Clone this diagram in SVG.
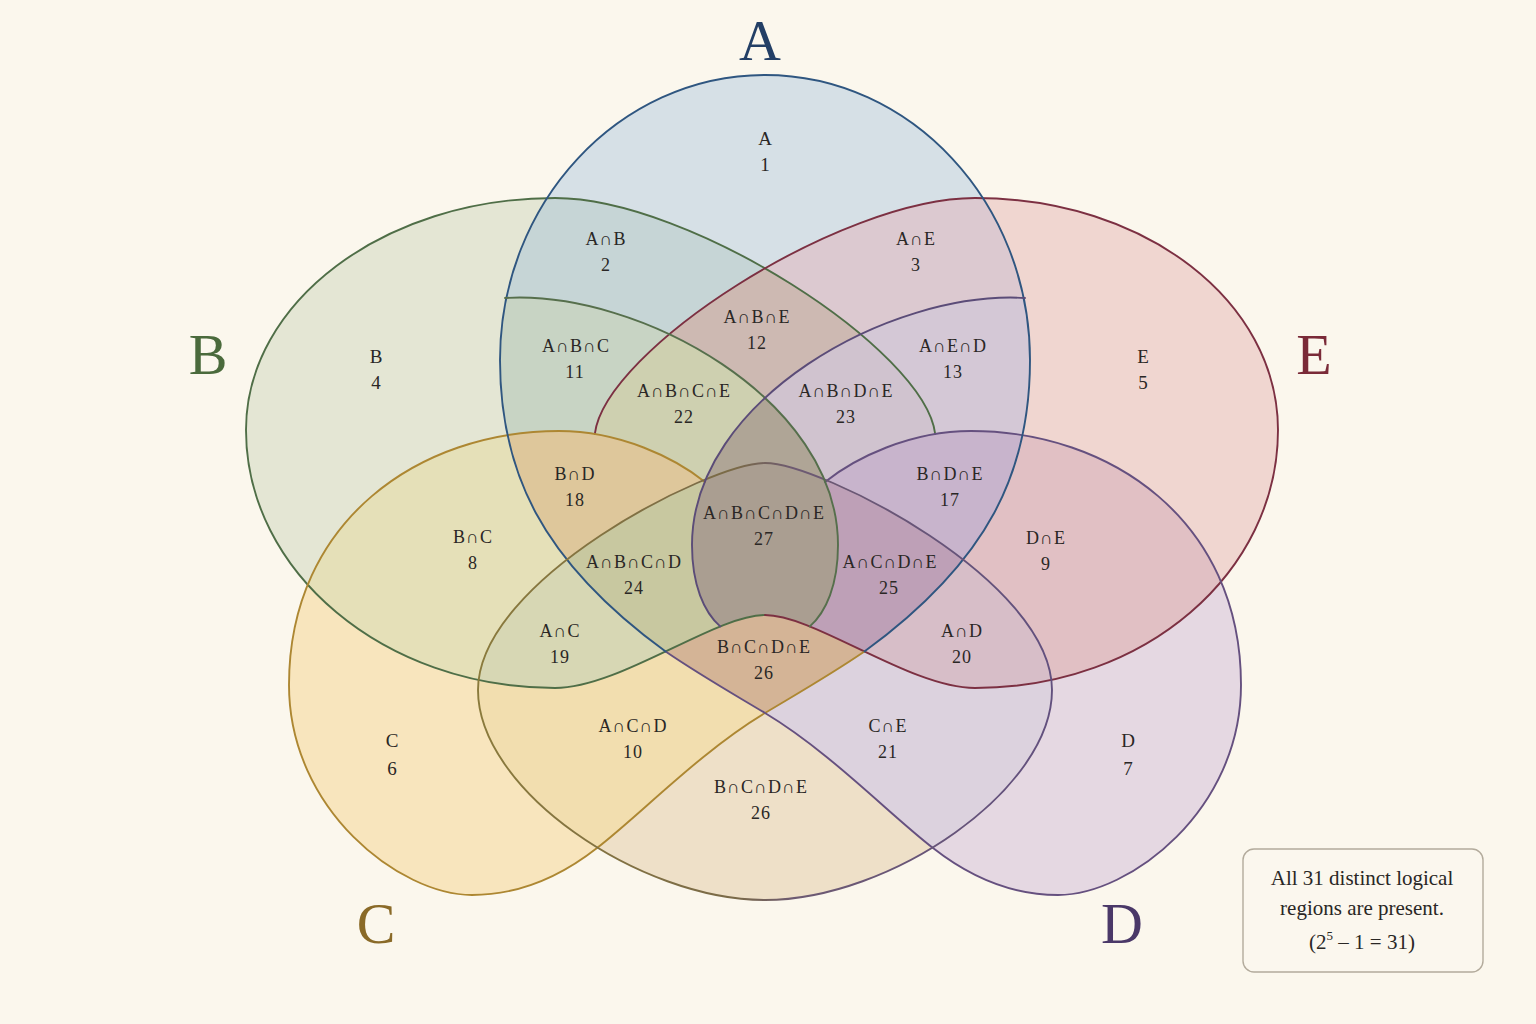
<svg xmlns="http://www.w3.org/2000/svg" xmlns:xlink="http://www.w3.org/1999/xlink" width="1536" height="1024" viewBox="0 0 1536 1024">
  <defs>
    <style>
      .edge { fill: none; stroke-width: 1.9; stroke-linejoin: round; stroke-linecap: round; }
      .lbl { font-family: "Liberation Serif", "DejaVu Serif", serif; font-size: 18px; fill: #2a2725; text-anchor: middle; letter-spacing: 1px; }
      .lbl1 { font-family: "Liberation Serif", "DejaVu Serif", serif; font-size: 19px; fill: #2a2725; text-anchor: middle; }
      .big { font-family: "Liberation Serif", "DejaVu Serif", serif; font-size: 58px; text-anchor: middle; }
      .note { font-family: "Liberation Serif", "DejaVu Serif", serif; font-size: 21px; fill: #2a2725; text-anchor: middle; }
    </style>
    <path id="pA" d="M765,75 C911,75 1030,203 1030,360 C1030,470 990,560 864.4,651.5 C826.25,633.25 790,615 765,615 C740,615 703.75,633.25 665.6,651.5 C540,560 500,470 500,360 C500,203 619,75 765,75 Z"/>
    <path id="pB" d="M246,430 C246,302 384,198 555,198 C690,198 925,350 935.2,434 C889,441.7 848.8,462.8 825,482 C834,500 838,522 838,545 C838,585 826,612 809.8,626.4 C792.8,619.6 777.5,615 765,615 C715,615 620,688 555,688 C384,688 246,572 246,430 Z"/>
    <path id="pE" d="M1278,430 C1278,302 1146,198 975,198 C840,198 605,350 594.8,434 C641,441.7 681.2,462.8 705,482 C696,500 692,522 692,545 C692,585 704,612 720.2,626.4 C737.2,619.6 752.5,615 765,615 C815,615 910,688 975,688 C1146,688 1278,572 1278,430 Z"/>
    <path id="pC" d="M289,685 C289,520 420,431 559,431 C620,431 675,458 705,482 C696,500 692,522 692,545 C692,585 704,612 720.2,626.4 C737.2,619.6 752.5,615 765,615 C777.5,615 792.8,619.6 809.8,626.4 C826.7,633.2 845.3,642.4 864.4,651.5 C830,675 800,692 765,713 C700,752 640,815 597,848 C560,877 520,895 472,895 C400,895 289,810 289,685 Z"/>
    <path id="pD" d="M1241,685 C1241,520 1110,431 971,431 C910,431 855,458 825,482 C834,500 838,522 838,545 C838,585 826,612 809.8,626.4 C792.8,619.6 777.5,615 765,615 C752.5,615 737.2,619.6 720.2,626.4 C703.3,633.2 684.7,642.4 665.6,651.5 C700,675 730,692 765,713 C830,752 890,815 933,848 C970,877 1010,895 1058,895 C1130,895 1241,810 1241,685 Z"/>
    <path id="pI" d="M765,463 C710,463 478,580 478,690 C478,790 640,900 765,900 C890,900 1052,790 1052,690 C1052,580 820,463 765,463 Z"/>
    <path id="pL1" d="M505,298 C640,290 838,400 838,545 C838,585 826,612 809.8,626.4 C792.8,619.6 777.5,615 765,615 C740,615 703.75,633.25 665.6,651.5 C540,560 500,470 500,360 C500,335 502,315 505,298 Z"/>
    <path id="pL2" d="M1025,298 C890,290 692,400 692,545 C692,585 704,612 720.2,626.4 C737.2,619.6 752.5,615 765,615 C790,615 826.25,633.25 864.4,651.5 C990,560 1030,470 1030,360 C1030,335 1028,315 1025,298 Z"/>
    <clipPath id="cA"><use href="#pA" xlink:href="#pA"/></clipPath>
    <clipPath id="cB"><use href="#pB" xlink:href="#pB"/></clipPath>
    <clipPath id="cE"><use href="#pE" xlink:href="#pE"/></clipPath>
    <clipPath id="cC"><use href="#pC" xlink:href="#pC"/></clipPath>
    <clipPath id="cD"><use href="#pD" xlink:href="#pD"/></clipPath>
    <clipPath id="cI"><use href="#pI" xlink:href="#pI"/></clipPath>
    <clipPath id="cL1"><use href="#pL1" xlink:href="#pL1"/></clipPath>
    <clipPath id="cL2"><use href="#pL2" xlink:href="#pL2"/></clipPath>
    <linearGradient id="innerStroke" x1="478" y1="0" x2="1052" y2="0" gradientUnits="userSpaceOnUse">
      <stop offset="0" stop-color="#8a7a3c"/>
      <stop offset="0.45" stop-color="#7a6a48"/>
      <stop offset="0.55" stop-color="#6d5a72"/>
      <stop offset="1" stop-color="#62507e"/>
    </linearGradient>
  </defs>

  <rect x="0" y="0" width="1536" height="1024" fill="#fbf7ed"/>

  <g id="region-fills">
    <!-- single sets -->
    <use href="#pB" xlink:href="#pB" fill="#e4e6d4"/>
    <use href="#pE" xlink:href="#pE" fill="#f0d6d0"/>
    <use href="#pC" xlink:href="#pC" fill="#f8e5bd"/>
    <use href="#pD" xlink:href="#pD" fill="#e5d8e2"/>
    <use href="#pA" xlink:href="#pA" fill="#d6e0e6"/>
    <use href="#pI" xlink:href="#pI" fill="#eee0c8"/>
    <!-- pairs -->
    <g clip-path="url(#cA)"><use href="#pB" xlink:href="#pB" fill="#c6d5d6"/></g>
    <g clip-path="url(#cA)"><use href="#pE" xlink:href="#pE" fill="#dcc9d0"/></g>
    <g clip-path="url(#cB)"><use href="#pC" xlink:href="#pC" fill="#e5e0b8"/></g>
    <g clip-path="url(#cC)"><use href="#pI" xlink:href="#pI" fill="#f2deaf"/></g>
    <g clip-path="url(#cD)"><use href="#pI" xlink:href="#pI" fill="#dcd2de"/></g>
    <g clip-path="url(#cE)"><use href="#pD" xlink:href="#pD" fill="#e1c0c4"/></g>
    <!-- triples -->
    <g clip-path="url(#cB)"><use href="#pL1" xlink:href="#pL1" fill="#c8d4c4"/></g>
    <g clip-path="url(#cE)"><use href="#pL2" xlink:href="#pL2" fill="#d4c8d6"/></g>
    <g clip-path="url(#cA)"><g clip-path="url(#cB)"><use href="#pE" xlink:href="#pE" fill="#cdb9b2"/></g></g>
    <g clip-path="url(#cB)"><g clip-path="url(#cC)"><use href="#pI" xlink:href="#pI" fill="#d7d7b4"/></g></g>
    <g clip-path="url(#cC)"><g clip-path="url(#cD)"><use href="#pI" xlink:href="#pI" fill="#d4b496"/></g></g>
    <g clip-path="url(#cE)"><g clip-path="url(#cD)"><use href="#pI" xlink:href="#pI" fill="#d7bec8"/></g></g>
    <!-- fours -->
    <g clip-path="url(#cB)"><g clip-path="url(#cE)"><use href="#pL1" xlink:href="#pL1" fill="#ced0b0"/></g></g>
    <g clip-path="url(#cB)"><g clip-path="url(#cE)"><use href="#pL2" xlink:href="#pL2" fill="#d0c3cf"/></g></g>
    <g clip-path="url(#cB)"><g clip-path="url(#cC)"><use href="#pL1" xlink:href="#pL1" fill="#dec79b"/></g></g>
    <g clip-path="url(#cE)"><g clip-path="url(#cD)"><use href="#pL2" xlink:href="#pL2" fill="#c8b4cc"/></g></g>
    <!-- fives -->
    <g clip-path="url(#cB)"><g clip-path="url(#cE)"><g clip-path="url(#cL1)"><use href="#pL2" xlink:href="#pL2" fill="#afa596"/></g></g></g>
    <g clip-path="url(#cB)"><g clip-path="url(#cC)"><g clip-path="url(#cI)"><use href="#pL1" xlink:href="#pL1" fill="#c8c8a0"/></g></g></g>
    <g clip-path="url(#cE)"><g clip-path="url(#cD)"><g clip-path="url(#cI)"><use href="#pL2" xlink:href="#pL2" fill="#bea0b7"/></g></g></g>
    <!-- all -->
    <g clip-path="url(#cB)"><g clip-path="url(#cE)"><g clip-path="url(#cL1)"><g clip-path="url(#cL2)"><use href="#pI" xlink:href="#pI" fill="#aa9e91"/></g></g></g></g>
  </g>

  <g id="set-B">
    <path class="edge" stroke="#4f6e47" d="M935.2,434 C925,350 690,198 555,198 C384,198 246,302 246,430 C246,572 384,688 555,688 C620,688 715,615 765,615"/>
    <text class="big" x="208" y="374" fill="#4a6a3c">B</text>
  </g>

  <g id="set-E">
    <path class="edge" stroke="#7c3042" d="M594.8,434 C605,350 840,198 975,198 C1146,198 1278,302 1278,430 C1278,572 1146,688 975,688 C910,688 815,615 765,615"/>
    <text class="big" x="1314" y="374" fill="#7a2a38">E</text>
  </g>

  <g id="set-C">
    <path class="edge" stroke="#ad8732" d="M705,482 C675,458 620,431 559,431 C420,431 289,520 289,685 C289,810 400,895 472,895 C520,895 560,877 597,848 C640,815 700,752 765,713 C800,692 830,675 864.4,651.5"/>
    <text class="big" x="376" y="943" fill="#8a6a28">C</text>
  </g>

  <g id="set-D">
    <path class="edge" stroke="#65507f" d="M825,482 C855,458 910,431 971,431 C1110,431 1241,520 1241,685 C1241,810 1130,895 1058,895 C1010,895 970,877 933,848 C890,815 830,752 765,713 C730,692 700,675 665.6,651.5"/>
    <text class="big" x="1122" y="943" fill="#4a3868">D</text>
  </g>

  <g id="set-A">
    <path class="edge" stroke="#2f5680" d="M665.6,651.5 C540,560 500,470 500,360 C500,203 619,75 765,75 C911,75 1030,203 1030,360 C1030,470 990,560 864.4,651.5"/>
    <text class="big" x="760" y="60" fill="#233f66">A</text>
  </g>

  <g id="inner-boundaries">
    <path class="edge" stroke="url(#innerStroke)" d="M765,463 C710,463 478,580 478,690 C478,790 640,900 765,900 C890,900 1052,790 1052,690 C1052,580 820,463 765,463 Z"/>
    <path class="edge" stroke="#566f4c" d="M505,298 C640,290 838,400 838,545 C838,585 826,612 809.8,626.4"/>
    <path class="edge" stroke="#5b4c78" d="M1025,298 C890,290 692,400 692,545 C692,585 704,612 720.2,626.4"/>
  </g>

  <g id="region-labels">
    <text class="lbl1" x="765" y="145">A</text><text class="lbl1" x="765" y="171">1</text>
    <text class="lbl" x="606" y="245">A∩B</text><text class="lbl" x="606" y="271">2</text>
    <text class="lbl" x="916" y="245">A∩E</text><text class="lbl" x="916" y="271">3</text>
    <text class="lbl" x="757" y="323">A∩B∩E</text><text class="lbl" x="757" y="349">12</text>
    <text class="lbl1" x="376" y="363">B</text><text class="lbl1" x="376" y="389">4</text>
    <text class="lbl" x="576" y="352">A∩B∩C</text><text class="lbl" x="575" y="378">11</text>
    <text class="lbl" x="953" y="352">A∩E∩D</text><text class="lbl" x="953" y="378">13</text>
    <text class="lbl1" x="1143" y="363">E</text><text class="lbl1" x="1143" y="389">5</text>
    <text class="lbl" x="684" y="397">A∩B∩C∩E</text><text class="lbl" x="684" y="423">22</text>
    <text class="lbl" x="846" y="397">A∩B∩D∩E</text><text class="lbl" x="846" y="423">23</text>
    <text class="lbl" x="575" y="480">B∩D</text><text class="lbl" x="575" y="506">18</text>
    <text class="lbl" x="950" y="480">B∩D∩E</text><text class="lbl" x="950" y="506">17</text>
    <text class="lbl" x="764" y="519">A∩B∩C∩D∩E</text><text class="lbl" x="764" y="545">27</text>
    <text class="lbl" x="473" y="543">B∩C</text><text class="lbl" x="473" y="569">8</text>
    <text class="lbl" x="1046" y="544">D∩E</text><text class="lbl" x="1046" y="570">9</text>
    <text class="lbl" x="634" y="568">A∩B∩C∩D</text><text class="lbl" x="634" y="594">24</text>
    <text class="lbl" x="890" y="568">A∩C∩D∩E</text><text class="lbl" x="889" y="594">25</text>
    <text class="lbl" x="560" y="637">A∩C</text><text class="lbl" x="560" y="663">19</text>
    <text class="lbl" x="962" y="637">A∩D</text><text class="lbl" x="962" y="663">20</text>
    <text class="lbl" x="764" y="653">B∩C∩D∩E</text><text class="lbl" x="764" y="679">26</text>
    <text class="lbl" x="633" y="732">A∩C∩D</text><text class="lbl" x="633" y="758">10</text>
    <text class="lbl" x="888" y="732">C∩E</text><text class="lbl" x="888" y="758">21</text>
    <text class="lbl1" x="392" y="747">C</text><text class="lbl1" x="392" y="775">6</text>
    <text class="lbl1" x="1128" y="747">D</text><text class="lbl1" x="1128" y="775">7</text>
    <text class="lbl" x="761" y="793">B∩C∩D∩E</text><text class="lbl" x="761" y="819">26</text>
  </g>

  <g id="note">
    <rect x="1243" y="849" width="240" height="123" rx="11" ry="11" fill="#fbf7ee" stroke="#b3ab9c" stroke-width="1.4"/>
    <text class="note" x="1362" y="885">All 31 distinct logical</text>
    <text class="note" x="1362" y="915">regions are present.</text>
    <text class="note" x="1362" y="949">(2<tspan font-size="13" dy="-9">5</tspan><tspan dy="9"> – 1 = 31)</tspan></text>
  </g>
</svg>
